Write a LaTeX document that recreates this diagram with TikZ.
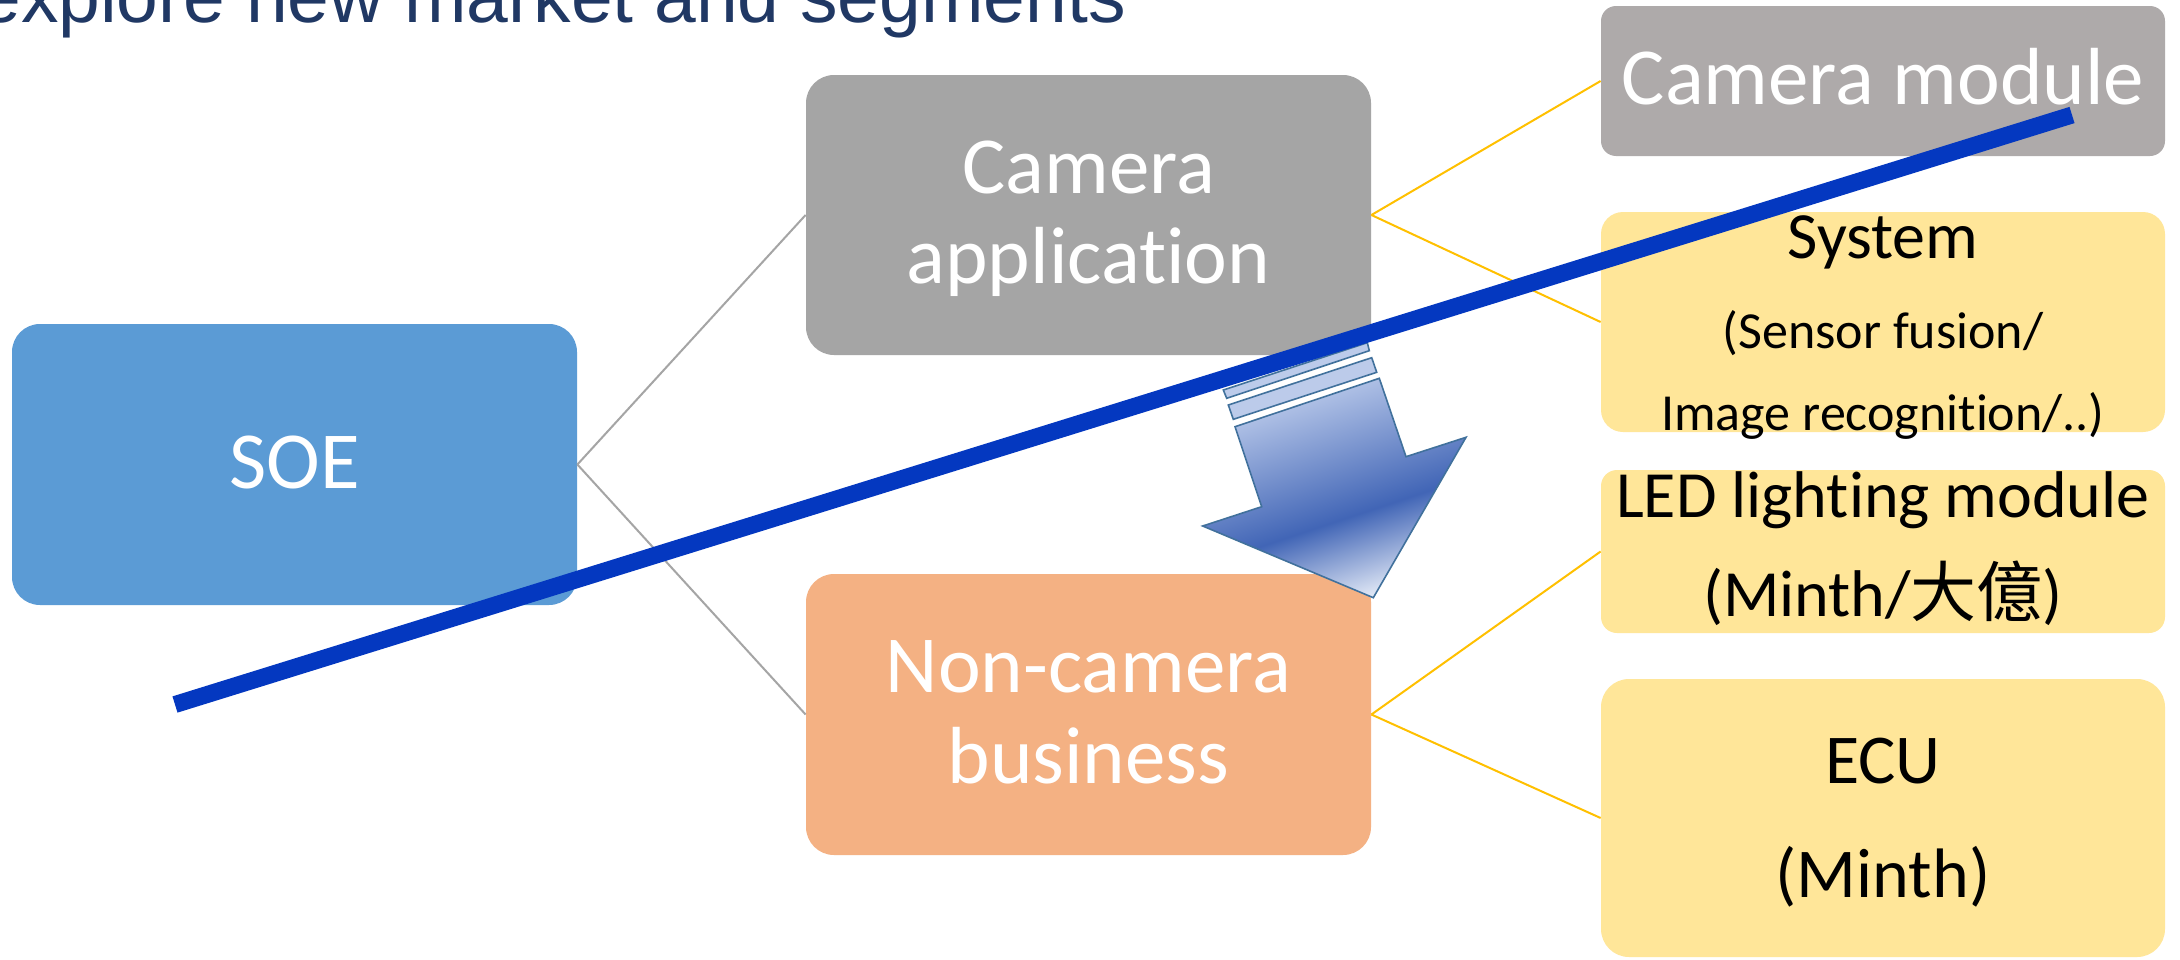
\documentclass[tikz,border=0pt]{standalone}
\usepackage{fontspec}
\setmainfont{Carlito}[Ligatures={NoCommon}]
\newfontfamily\titlefont{Liberation Sans}
\newfontfamily\cjkfont{Noto Sans CJK TC}
\definecolor{soeblue}{HTML}{5B9BD5}
\definecolor{camgray}{HTML}{A5A5A5}
\definecolor{modgray}{HTML}{AEAAAA}
\definecolor{noncam}{HTML}{F4B183}
\definecolor{lightyel}{HTML}{FFE699}
\definecolor{linkyel}{HTML}{FFC000}
\definecolor{linkgray}{HTML}{A5A5A5}
\definecolor{bigblue}{HTML}{0438C0}
\definecolor{titleblue}{HTML}{203864}
\definecolor{arOut}{HTML}{41719C}
\definecolor{arTop}{HTML}{C3D1EE}
\definecolor{arDark}{HTML}{4165B6}
\definecolor{arTip}{HTML}{E2E9F6}
\definecolor{arStripe}{HTML}{BCCBEA}
\pgfdeclareverticalshading{arrowgrad}{100bp}{color(0bp)=(arTip); color(25bp)=(arTip); color(43bp)=(arDark); color(75bp)=(arTop); color(100bp)=(arTop)}
\begin{document}
\begin{tikzpicture}[x=0.5pt,y=-0.5pt,
  box/.style={rectangle, inner sep=0pt, draw=none, minimum width=282.5pt},
  wtxt/.style={text=white, inner sep=0pt, anchor=base, font=\fontsize{40.5}{48}\selectfont},
  btxt/.style={text=black, inner sep=0pt, anchor=base},
  graylink/.style={draw=linkgray, line width=1pt},
  yellink/.style={draw=linkyel, line width=1pt},
  arrowline/.style={draw=arOut, line width=0.8pt, line join=miter},
  blueline/.style={draw=bigblue, line width=8.5pt, line cap=butt}]
\useasboundingbox (0,0) rectangle (2180,959);
\clip (0,0) rectangle (2180,959);
\fill[white] (0,0) rectangle (2180,959);

% title
\node[anchor=base west, inner sep=0pt, text=titleblue, font=\titlefont\fontsize{37.5}{44}\selectfont] (title) at (-21,22) {explore new market and segments};

% boxes
\node[box, fill=soeblue, minimum height=140.5pt, rounded corners=14pt] (soe) at (294.5,464.5) {};
\node[box, fill=camgray, minimum height=140pt, rounded corners=14pt] (camapp) at (1088.5,215) {};
\node[box, fill=noncam, minimum height=140.5pt, rounded corners=14pt] (noncam) at (1088.5,714.5) {};
\node[box, fill=modgray, minimum width=282pt, minimum height=75pt, rounded corners=7.5pt] (cammod) at (1883,81) {};
\node[box, fill=lightyel, minimum width=282pt, minimum height=110pt, rounded corners=11pt] (system) at (1883,322) {};
\node[box, fill=lightyel, minimum width=282pt, minimum height=81.5pt, rounded corners=8pt] (led) at (1883,551.5) {};
\node[box, fill=lightyel, minimum width=282pt, minimum height=139pt, rounded corners=14pt] (ecu) at (1883,818) {};

% connectors
\draw[graylink] (soe.east) -- (camapp.west);
\draw[graylink] (soe.east) -- (noncam.west);
\draw[yellink] (camapp.east) -- (cammod.west);
\draw[yellink] (camapp.east) -- (system.west);
\draw[yellink] (noncam.east) -- (led.west);
\draw[yellink] (noncam.east) -- (ecu.west);

% texts
\node[wtxt] (soeT) at (294.5,488) {SOE};
\node[wtxt] (camappA) at (1088.5,193) {Camera};
\node[wtxt] (camappB) at (1088.5,283) {application};
\node[wtxt] (noncamA) at (1088.5,692) {Non-camera};
\node[wtxt] (noncamB) at (1088.5,783) {business};
\node[wtxt] (cammodT) at (1883,104) {Camera module};
\node[btxt, font=\fontsize{33}{40}\selectfont] (systemA) at (1883,258) {System};
\node[btxt, font=\fontsize{26}{32}\selectfont] (systemB) at (1883,348) {(Sensor fusion/};
\node[btxt, font=\fontsize{26}{32}\selectfont] (systemC) at (1883,430) {Image recognition/..)};
\node[btxt, font=\fontsize{33}{40}\selectfont] (ledA) at (1883,517) {LED lighting module};
\node[btxt, font=\fontsize{33}{40}\selectfont] (ledB) at (1883,616) {(Minth/{\cjkfont 大億})};
\node[btxt, font=\fontsize{35}{42}\selectfont] (ecuA) at (1883,783) {ECU};
\node[btxt, font=\fontsize{35}{42}\selectfont] (ecuB) at (1883,897) {(Minth)};

% striped block arrow
\draw[arrowline, fill=arStripe] (1223.3,390) -- (1367.3,342.7) -- (1369.3,350.7) -- (1226.7,398.3) -- cycle;
\draw[arrowline, fill=arStripe] (1228.3,405) -- (1371.7,357.7) -- (1376.7,372.3) -- (1233.3,419.3) -- cycle;
\draw[arrowline, shade, shading=arrowgrad, shading angle=18.4] (1235,426.7) -- (1379.3,378.3) -- (1406,456.7) -- (1466,437.3) -- (1373.3,597.7) -- (1202.7,526) -- (1261.7,506.7) -- cycle;

% big blue line
\coordinate (bl1) at (175,704.5);
\coordinate (bl2) at (2072,115);
\draw[blueline] (bl1) -- (bl2);
\end{tikzpicture}
\end{document}
